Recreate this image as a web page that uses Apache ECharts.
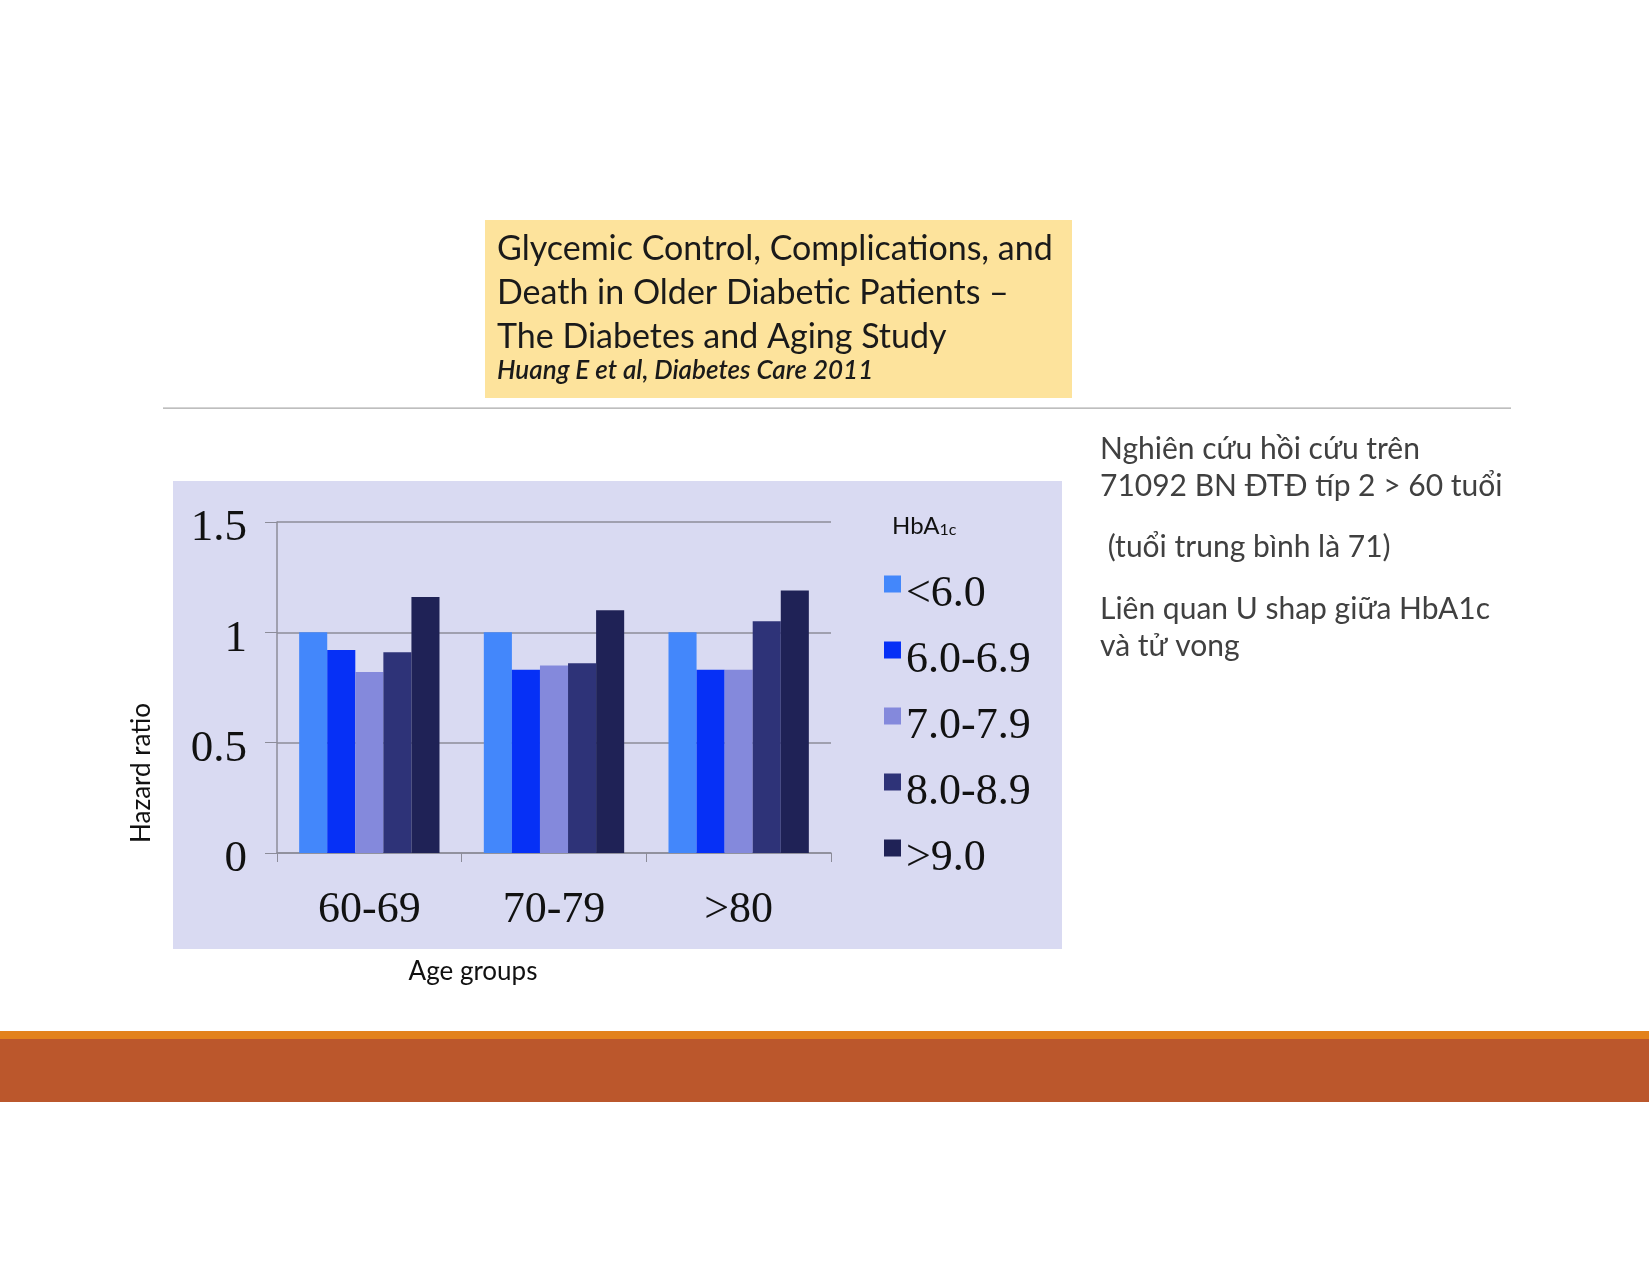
<!DOCTYPE html>
<html>
<head>
<meta charset="utf-8">
<script src="https://cdn.jsdelivr.net/npm/echarts@6/dist/echarts.min.js"></script>
<style>
html,body{margin:0;padding:0;background:#fff;}
#main{width:1649px;height:1274px;}
</style>
</head>
<body>
<div id="main"></div>
<script>
var categories = ['60-69', '70-79', '>80'];
var seriesNames = ['<6.0', '6.0-6.9', '7.0-7.9', '8.0-8.9', '>9.0'];
var s_lt60 = [1.00, 1.00, 1.00];
var s_60_69 = [0.92, 0.83, 0.83];
var s_70_79 = [0.82, 0.85, 0.83];
var s_80_89 = [0.91, 0.86, 1.05];
var s_gt90 = [1.16, 1.10, 1.19];
var yTicks = ['0', '0.5', '1', '1.5'];
var colors = ['#4387fb', '#0630f6', '#8489dc', '#2e3378', '#1f2256'];

var serif = '"Liberation Serif", "DejaVu Serif", serif';
var sans = 'Lato, "Noto Sans", sans-serif';
var allSeries = [s_lt60, s_60_69, s_70_79, s_80_89, s_gt90];

var chart = echarts.init(document.getElementById('main'), null, {renderer: 'canvas'});
var option = {
  backgroundColor: '#ffffff',
  animation: false,
  grid: {left: 277, top: 522, width: 554, height: 331, containLabel: false},
  legend: {
    orient: 'vertical',
    left: 879,
    top: 547,
    itemWidth: 17,
    itemHeight: 17,
    itemGap: 2,
    icon: 'rect',
    data: seriesNames,
    formatter: function (name) { return '{a|' + name + '}'; },
    textStyle: {
      rich: {a: {fontFamily: serif, fontSize: 44, color: '#111', lineHeight: 40, padding: [20, 0, 0, 0]}}
    }
  },
  xAxis: {
    type: 'category',
    data: categories,
    axisLine: {show: true, lineStyle: {color: '#8c8c99', width: 1.5}},
    axisTick: {show: true, length: 9, lineStyle: {color: '#8c8c99'}},
    axisLabel: {fontFamily: serif, fontSize: 44, color: '#111', margin: 35}
  },
  yAxis: {
    type: 'value',
    min: 0, max: 1.5, interval: 0.5,
    axisLine: {show: true, lineStyle: {color: '#8c8c99', width: 1.5}},
    axisTick: {show: true, length: 12, lineStyle: {color: '#8c8c99'}},
    splitLine: {show: true, lineStyle: {color: '#8c8c99', width: 1.5}},
    axisLabel: {
      margin: 30,
      formatter: function (v) { var i = Math.round(v / 0.5); return '{a|' + yTicks[i] + '}'; },
      rich: {a: {fontFamily: serif, fontSize: 45, color: '#111', lineHeight: 42, padding: [13, 0, 0, 0]}}
    }
  },
  graphic: [
    {type: 'rect', z: -10, shape: {x: 173, y: 481, width: 889, height: 468}, style: {fill: '#d9daf2'}},
    {type: 'rect', z: -10, shape: {x: 485, y: 220, width: 587, height: 178}, style: {fill: '#fde39c'}},
    {type: 'rect', z: -10, shape: {x: 163, y: 407.5, width: 1348, height: 1.2}, style: {fill: '#a9a9a9'}},
    {type: 'rect', z: -10, shape: {x: 0, y: 1031, width: 1649, height: 9}, style: {fill: '#e3821c'}},
    {type: 'rect', z: -10, shape: {x: 0, y: 1039, width: 1649, height: 63}, style: {fill: '#bb572c'}},
    {type: 'text', left: 497, top: 227, style: {text: 'Glycemic Control, Complications, and\nDeath in Older Diabetic Patients \u2013\nThe Diabetes and Aging Study', font: '34px ' + sans, lineHeight: 44, fill: '#1a1a1a'}},
    {type: 'text', left: 497, top: 358, style: {text: 'Huang E et al, Diabetes Care 2011', font: 'italic 600 26px ' + sans, fill: '#1a1a1a'}},
    {type: 'text', left: 892, top: 514, style: {
      text: '{a|HbA}{s|1c}',
      rich: {a: {fontFamily: sans, fontSize: 24, fill: '#111', verticalAlign: 'bottom'},
             s: {fontFamily: sans, fontSize: 16, fill: '#111', padding: [12, 0, 0, 0], verticalAlign: 'bottom'}}
    }},
    {type: 'text', x: 142, y: 773, rotation: Math.PI / 2, style: {text: 'Hazard ratio', font: '26px ' + sans, fill: '#111', align: 'center', verticalAlign: 'middle'}},
    {type: 'text', x: 473, y: 972, style: {text: 'Age groups', font: '26px ' + sans, fill: '#111', align: 'center', verticalAlign: 'middle'}},
    {type: 'text', left: 1100, top: 431, style: {text: 'Nghi\u00ean c\u1ee9u h\u1ed3i c\u1ee9u tr\u00ean\n71092 BN \u0110T\u0110 t\u00edp 2 > 60 tu\u1ed5i', font: '30px ' + sans, lineHeight: 37, fill: '#404040'}},
    {type: 'text', left: 1100, top: 529, style: {text: ' (tu\u1ed5i trung b\u00ecnh l\u00e0 71)', font: '30px ' + sans, lineHeight: 37, fill: '#404040'}},
    {type: 'text', left: 1100, top: 591, style: {text: 'Li\u00ean quan U shap gi\u1eefa HbA1c\nv\u00e0 t\u1eed vong', font: '30px ' + sans, lineHeight: 37, fill: '#404040'}}
  ],
  series: seriesNames.map(function (name, i) {
    return {
      name: name,
      type: 'bar',
      data: allSeries[i],
      barGap: '0%',
      barCategoryGap: '24%',
      itemStyle: {color: colors[i]}
    };
  })
};
chart.setOption(option);
</script>
</body>
</html>
